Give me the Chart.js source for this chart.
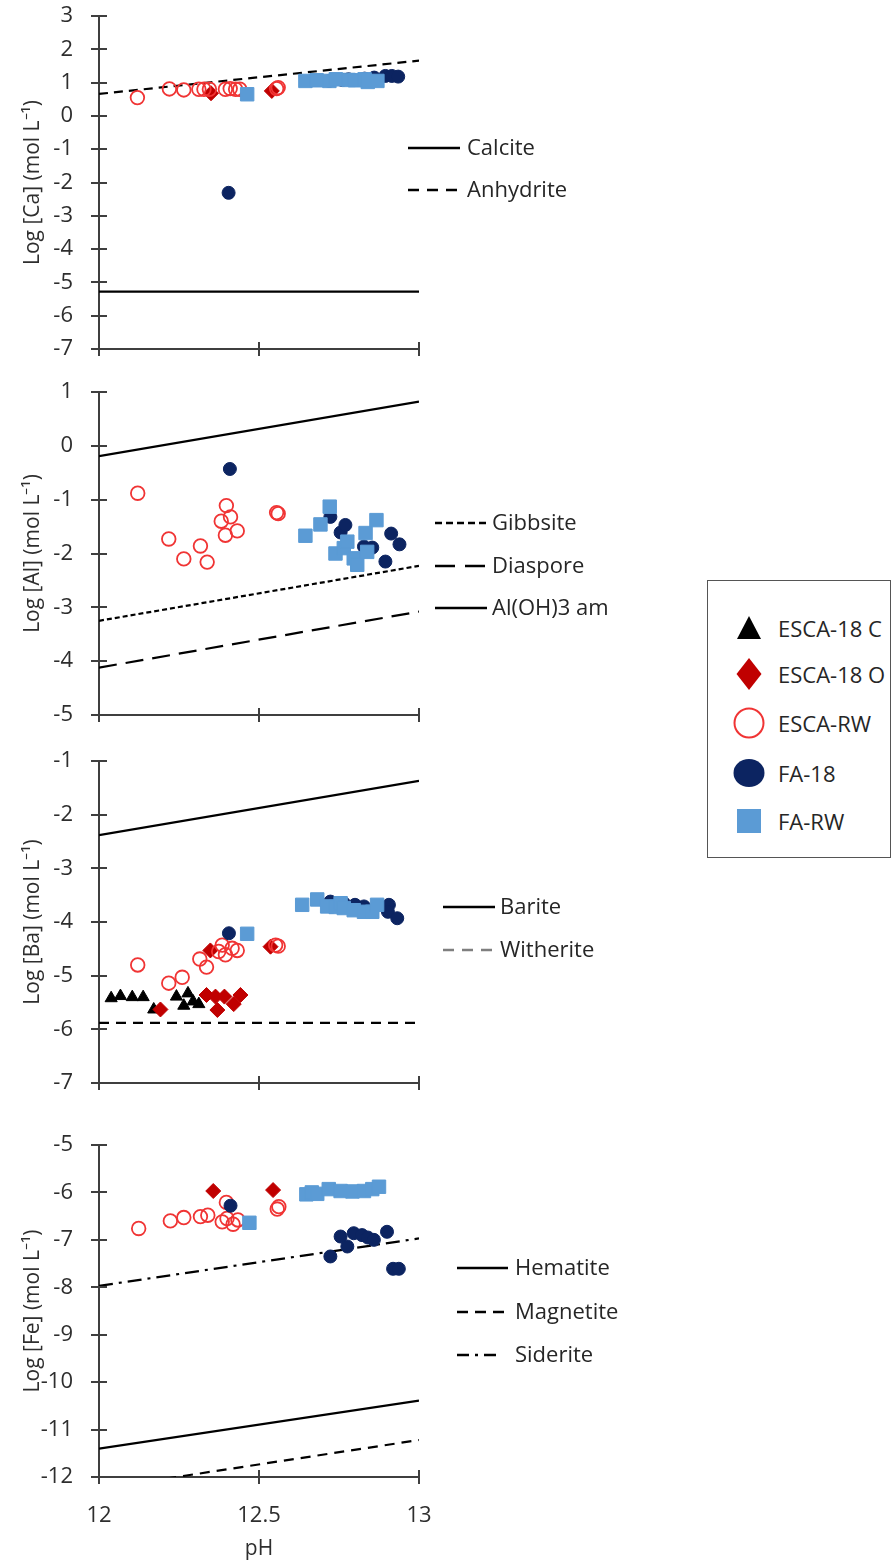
<!DOCTYPE html>
<html>
<head>
<meta charset="utf-8">
<script src="https://cdn.jsdelivr.net/npm/chart.js@4.4.0/dist/chart.umd.min.js"></script>
<style>
  body { margin: 0; width: 892px; height: 1566px; overflow: hidden; background: #fff; position: relative; }
  canvas { position: absolute; left: 0; }
  #legend { position: absolute; left: 707px; top: 580px; width: 182px; height: 276px; border: 1.5px solid #555; background: #fff; }
  #legend .mk { position: absolute; left: 23px; }
  #legend .lb { position: absolute; left: 70px; font: 22px "Open Sans", sans-serif; color: #262626; white-space: nowrap; transform: translateY(-50%); }
</style>
</head>
<body>
<canvas id="caChart" width="892" height="365" style="top:0px"></canvas>
<canvas id="alChart" width="892" height="355" style="top:376px"></canvas>
<canvas id="baChart" width="892" height="354" style="top:745px"></canvas>
<canvas id="feChart" width="892" height="437" style="top:1129px"></canvas>
<div id="legend"></div>
<script>
// ---- data: [pH, log concentration] pairs ----
const phTicks = [12, 12.5, 13];

// Ca panel
const caTicks = [-7, -6, -5, -4, -3, -2, -1, 0, 1, 2, 3];
const caEscaO = [[12.35, 0.68], [12.54, 0.75]];
const caEscaRW = [[12.12, 0.55], [12.22, 0.81], [12.265, 0.78], [12.312, 0.8], [12.328, 0.8], [12.345, 0.8],
  [12.395, 0.8], [12.41, 0.82], [12.427, 0.8], [12.44, 0.8], [12.555, 0.82], [12.56, 0.85]];
const caFa18 = [[12.405, -2.31], [12.72, 1.05], [12.76, 1.08], [12.78, 1.1], [12.83, 1.12], [12.86, 1.15],
  [12.895, 1.2], [12.915, 1.2], [12.935, 1.18]];
const caFaRW = [[12.463, 0.65], [12.645, 1.05], [12.68, 1.07], [12.72, 1.05], [12.74, 1.1], [12.78, 1.08],
  [12.8, 1.07], [12.83, 1.1], [12.84, 1.02], [12.87, 1.05]];
const calcite = [[12, -5.28], [13, -5.28]];
const anhydrite = [[12, 0.66], [13, 1.66]];

// Al panel
const alTicks = [-5, -4, -3, -2, -1, 0, 1];
const alEscaRW = [[12.121, -0.88], [12.218, -1.73], [12.265, -2.1], [12.317, -1.86], [12.338, -2.16],
  [12.382, -1.4], [12.395, -1.66], [12.398, -1.11], [12.411, -1.32], [12.432, -1.58], [12.555, -1.24], [12.56, -1.26]];
const alFa18 = [[12.409, -0.43], [12.723, -1.32], [12.755, -1.61], [12.77, -1.47], [12.828, -1.87],
  [12.854, -1.89], [12.895, -2.15], [12.913, -1.63], [12.939, -1.83]];
const alFaRW = [[12.645, -1.67], [12.692, -1.46], [12.721, -1.13], [12.739, -2.0], [12.765, -1.9],
  [12.776, -1.78], [12.796, -2.09], [12.807, -2.21], [12.833, -1.62], [12.838, -1.97], [12.867, -1.38]];
const gibbsite = [[12, -3.25], [13, -2.23]];
const diaspore = [[12, -4.12], [13, -3.08]];
const alOH3am = [[12, -0.19], [13, 0.82]];

// Ba panel
const baTicks = [-7, -6, -5, -4, -3, -2, -1];
const baEscaC = [[12.038, -5.42], [12.067, -5.38], [12.104, -5.4], [12.138, -5.4], [12.171, -5.63],
  [12.242, -5.39], [12.265, -5.56], [12.278, -5.33], [12.294, -5.48], [12.312, -5.53]];
const baEscaO = [[12.192, -5.63], [12.336, -5.36], [12.348, -4.53], [12.364, -5.39], [12.37, -5.64],
  [12.392, -5.39], [12.421, -5.53], [12.442, -5.36], [12.536, -4.46]];
const baEscaRW = [[12.121, -4.8], [12.218, -5.14], [12.26, -5.03], [12.315, -4.69], [12.336, -4.84],
  [12.374, -4.55], [12.385, -4.43], [12.395, -4.61], [12.416, -4.49], [12.432, -4.53], [12.552, -4.43], [12.56, -4.45]];
const baFa18 = [[12.406, -4.21], [12.723, -3.62], [12.765, -3.65], [12.8, -3.68], [12.828, -3.71],
  [12.906, -3.68], [12.903, -3.81], [12.932, -3.93]];
const baFaRW = [[12.463, -4.22], [12.635, -3.68], [12.682, -3.58], [12.713, -3.71], [12.74, -3.72],
  [12.755, -3.65], [12.765, -3.74], [12.796, -3.78], [12.828, -3.81], [12.854, -3.81], [12.869, -3.68]];
const barite = [[12, -2.38], [13, -1.37]];
const witherite = [[12, -5.88], [13, -5.88]];

// Fe panel
const feTicks = [-12, -11, -10, -9, -8, -7, -6, -5];
const feEscaO = [[12.357, -5.97], [12.544, -5.95]];
const feEscaRW = [[12.124, -6.76], [12.223, -6.6], [12.265, -6.53], [12.317, -6.51], [12.34, -6.48],
  [12.385, -6.62], [12.398, -6.21], [12.4, -6.55], [12.419, -6.67], [12.434, -6.58], [12.557, -6.35], [12.562, -6.3]];
const feFa18 = [[12.411, -6.28], [12.723, -7.35], [12.755, -6.93], [12.776, -7.14], [12.796, -6.86],
  [12.822, -6.9], [12.84, -6.95], [12.859, -7.0], [12.9, -6.83], [12.919, -7.61], [12.937, -7.61]];
const feFaRW = [[12.47, -6.64], [12.648, -6.04], [12.665, -6.0], [12.682, -6.03], [12.718, -5.93],
  [12.755, -5.97], [12.792, -5.98], [12.828, -5.97], [12.854, -5.93], [12.875, -5.88]];
const hematite = [[12, -11.4], [13, -10.39]];
const magnetite = [[12, -12.25], [13, -11.22]];
const siderite = [[12, -7.97], [13, -6.97]];

// ---- styles ----
const axisColor = '#3f3f3f';
const textColor = '#2e2e2e';
const seriesMeta = [
  { key: 'escaC', label: 'ESCA-18 C', style: 'triangle', radius: 7, fill: '#000000', stroke: '#000000', width: 1 },
  { key: 'escaO', label: 'ESCA-18 O', style: 'rectRot', radius: 7.5, fill: '#c00000', stroke: '#c00000', width: 1 },
  { key: 'escaRW', label: 'ESCA-RW', style: 'circle', radius: 6.8, fill: 'rgba(255,255,255,0)', stroke: '#f03434', width: 1.8 },
  { key: 'fa18', label: 'FA-18', style: 'circle', radius: 6.5, fill: '#0c2461', stroke: '#0c2461', width: 1 },
  { key: 'faRW', label: 'FA-RW', style: 'rect', radius: 9.5, fill: '#5b9bd5', stroke: '#5b9bd5', width: 1 }
];

Chart.defaults.font.family = '"Open Sans", sans-serif';
Chart.defaults.color = textColor;

const panels = [
  {
    id: 'caChart', title: 'Log [Ca] (mol L\u207B\u00B9)', yTicks: caTicks, showX: false,
    series: { escaO: caEscaO, escaRW: caEscaRW, fa18: caFa18, faRW: caFaRW },
    minerals: [{ data: calcite, dash: [] }, { data: anhydrite, dash: [9, 6] }],
    keys: [
      { text: 'Calcite', dash: [], y: 148, x0: 408, x1: 460, tx: 467 },
      { text: 'Anhydrite', dash: [11, 8], y: 190, x0: 408, x1: 460, tx: 467 }
    ]
  },
  {
    id: 'alChart', title: 'Log [Al] (mol L\u207B\u00B9)', yTicks: alTicks, showX: false,
    series: { escaRW: alEscaRW, fa18: alFa18, faRW: alFaRW },
    minerals: [{ data: alOH3am, dash: [] }, { data: gibbsite, dash: [5, 3] }, { data: diaspore, dash: [18, 9] }],
    keys: [
      { text: 'Gibbsite', dash: [7, 4], y: 147, x0: 435, x1: 487, tx: 492 },
      { text: 'Diaspore', dash: [20, 10], y: 190, x0: 435, x1: 487, tx: 492 },
      { text: 'Al(OH)3 am', dash: [], y: 232, x0: 435, x1: 487, tx: 492 }
    ]
  },
  {
    id: 'baChart', title: 'Log [Ba] (mol L\u207B\u00B9)', yTicks: baTicks, showX: false,
    series: { escaC: baEscaC, escaO: baEscaO, escaRW: baEscaRW, fa18: baFa18, faRW: baFaRW },
    minerals: [{ data: barite, dash: [] }, { data: witherite, dash: [10, 7] }],
    keys: [
      { text: 'Barite', dash: [], y: 162, x0: 443, x1: 495, tx: 500 },
      { text: 'Witherite', dash: [11, 8], y: 205, x0: 443, x1: 495, tx: 500, color: '#7f7f7f' }
    ]
  },
  {
    id: 'feChart', title: 'Log [Fe] (mol L\u207B\u00B9)', yTicks: feTicks, showX: true,
    series: { escaO: feEscaO, escaRW: feEscaRW, fa18: feFa18, faRW: feFaRW },
    minerals: [{ data: hematite, dash: [] }, { data: magnetite, dash: [10, 7] }, { data: siderite, dash: [14, 6, 3, 6] }],
    keys: [
      { text: 'Hematite', dash: [], y: 139, x0: 457, x1: 508, tx: 515 },
      { text: 'Magnetite', dash: [11, 7], y: 183, x0: 457, x1: 508, tx: 515 },
      { text: 'Siderite', dash: [12, 6, 3, 6], y: 226, x0: 457, x1: 500, tx: 515 }
    ]
  }
];

function toXY(pairs) {
  return pairs.map(p => ({ x: p[0], y: p[1] }));
}

// axis ticks in the reference cross the axis line
const crossTicks = {
  id: 'crossTicks',
  afterDraw(chart) {
    const { ctx, chartArea, scales } = chart;
    ctx.save();
    ctx.strokeStyle = axisColor;
    ctx.lineWidth = 2;
    scales.y.ticks.forEach(t => {
      const py = Math.round(scales.y.getPixelForValue(t.value));
      ctx.beginPath();
      ctx.moveTo(chartArea.left - 8, py);
      ctx.lineTo(chartArea.left + 8, py);
      ctx.stroke();
    });
    scales.x.ticks.forEach(t => {
      const px = Math.round(scales.x.getPixelForValue(t.value));
      ctx.beginPath();
      ctx.moveTo(px, chartArea.bottom - 7);
      ctx.lineTo(px, chartArea.bottom + 7);
      ctx.stroke();
    });
    ctx.restore();
  }
};

panels.forEach(p => {
  const datasets = [];
  seriesMeta.forEach((m, i) => {
    const pts = p.series[m.key];
    if (!pts) return;
    datasets.push({
      label: m.label,
      data: toXY(pts),
      order: 5 - i,
      pointStyle: m.style,
      pointRadius: m.radius,
      pointHoverRadius: m.radius,
      backgroundColor: m.fill,
      borderColor: m.stroke,
      pointBackgroundColor: m.fill,
      pointBorderColor: m.stroke,
      pointBorderWidth: m.width
    });
  });
  p.minerals.forEach(mn => {
    datasets.push({
      data: toXY(mn.data),
      showLine: true,
      pointRadius: 0,
      borderColor: '#000000',
      borderWidth: 2.2,
      borderDash: mn.dash,
      order: 10
    });
  });

  const keyPlugin = {
    id: 'mineralKeys',
    afterDraw(chart) {
      const ctx = chart.ctx;
      ctx.save();
      p.keys.forEach(k => {
        ctx.strokeStyle = k.color || '#000000';
        ctx.lineWidth = 2.4;
        ctx.setLineDash(k.dash);
        ctx.beginPath();
        ctx.moveTo(k.x0, k.y);
        ctx.lineTo(k.x1, k.y);
        ctx.stroke();
        ctx.setLineDash([]);
        ctx.fillStyle = '#262626';
        ctx.font = '22px "Open Sans", sans-serif';
        ctx.textBaseline = 'middle';
        ctx.textAlign = 'left';
        ctx.fillText(k.text, k.tx, k.y + 1);
      });
      ctx.restore();
    }
  };

  new Chart(document.getElementById(p.id), {
    type: 'scatter',
    data: { datasets: datasets },
    options: {
      responsive: false,
      animation: false,
      events: [],
      layout: { padding: { top: 16, right: 473, left: 0, bottom: 0 } },
      plugins: { legend: { display: false }, tooltip: { enabled: false } },
      scales: {
        x: {
          type: 'linear',
          min: 12, max: 13,
          afterBuildTicks: s => { s.ticks = phTicks.map(v => ({ value: v })); },
          afterFit: s => { s.height = p.showX ? 89 : 16; },
          grid: { display: false },
          border: { display: true, color: axisColor, width: 2 },
          ticks: { display: p.showX, padding: 20, font: { size: 22, lineHeight: 1 }, color: textColor, callback: v => String(v) },
          title: { display: p.showX, text: 'pH', font: { size: 21 }, color: textColor, padding: { top: 0, bottom: 4 } }
        },
        y: {
          type: 'linear',
          min: p.yTicks[0], max: p.yTicks[p.yTicks.length - 1],
          afterBuildTicks: s => { s.ticks = p.yTicks.map(v => ({ value: v })); },
          afterFit: s => { s.width = 99; },
          // invisible tick marks only offset the labels; the visible crosses come from crossTicks
          grid: { display: true, drawOnChartArea: false, drawTicks: true, tickLength: 26, tickColor: 'rgba(0,0,0,0)' },
          border: { display: true, color: axisColor, width: 2 },
          ticks: { padding: 0, font: { size: 22, lineHeight: 1 }, color: textColor, callback: v => String(v) },
          title: { display: true, text: p.title, font: { size: 21 }, color: textColor, padding: { top: 20, bottom: 0 } }
        }
      }
    },
    plugins: [crossTicks, keyPlugin]
  });
});

// ---- sample legend (HTML box on the right) ----
const legendRows = [47, 93, 142, 192, 240];
const markerSvg = {
  triangle: m => '<polygon points="18,6 30,29 6,29" fill="' + m.fill + '"/>',
  rectRot: m => '<polygon points="18,2 30.5,18 18,34 5.5,18" fill="' + m.fill + '"/>',
  circle: m => m.key === 'escaRW'
    ? '<circle cx="18" cy="18" r="14.5" fill="none" stroke="' + m.stroke + '" stroke-width="2"/>'
    : '<ellipse cx="18" cy="18" rx="15.5" ry="14" fill="' + m.fill + '"/>',
  rect: m => '<rect x="6" y="6" width="24" height="24" fill="' + m.fill + '"/>'
};
const legendEl = document.getElementById('legend');
seriesMeta.forEach((m, i) => {
  const y = legendRows[i];
  legendEl.insertAdjacentHTML('beforeend',
    '<svg class="mk" width="36" height="36" style="top:' + (y - 18) + 'px">' + markerSvg[m.style](m) + '</svg>' +
    '<div class="lb" style="top:' + y + 'px">' + m.label + '</div>');
});
</script>
</body>
</html>
